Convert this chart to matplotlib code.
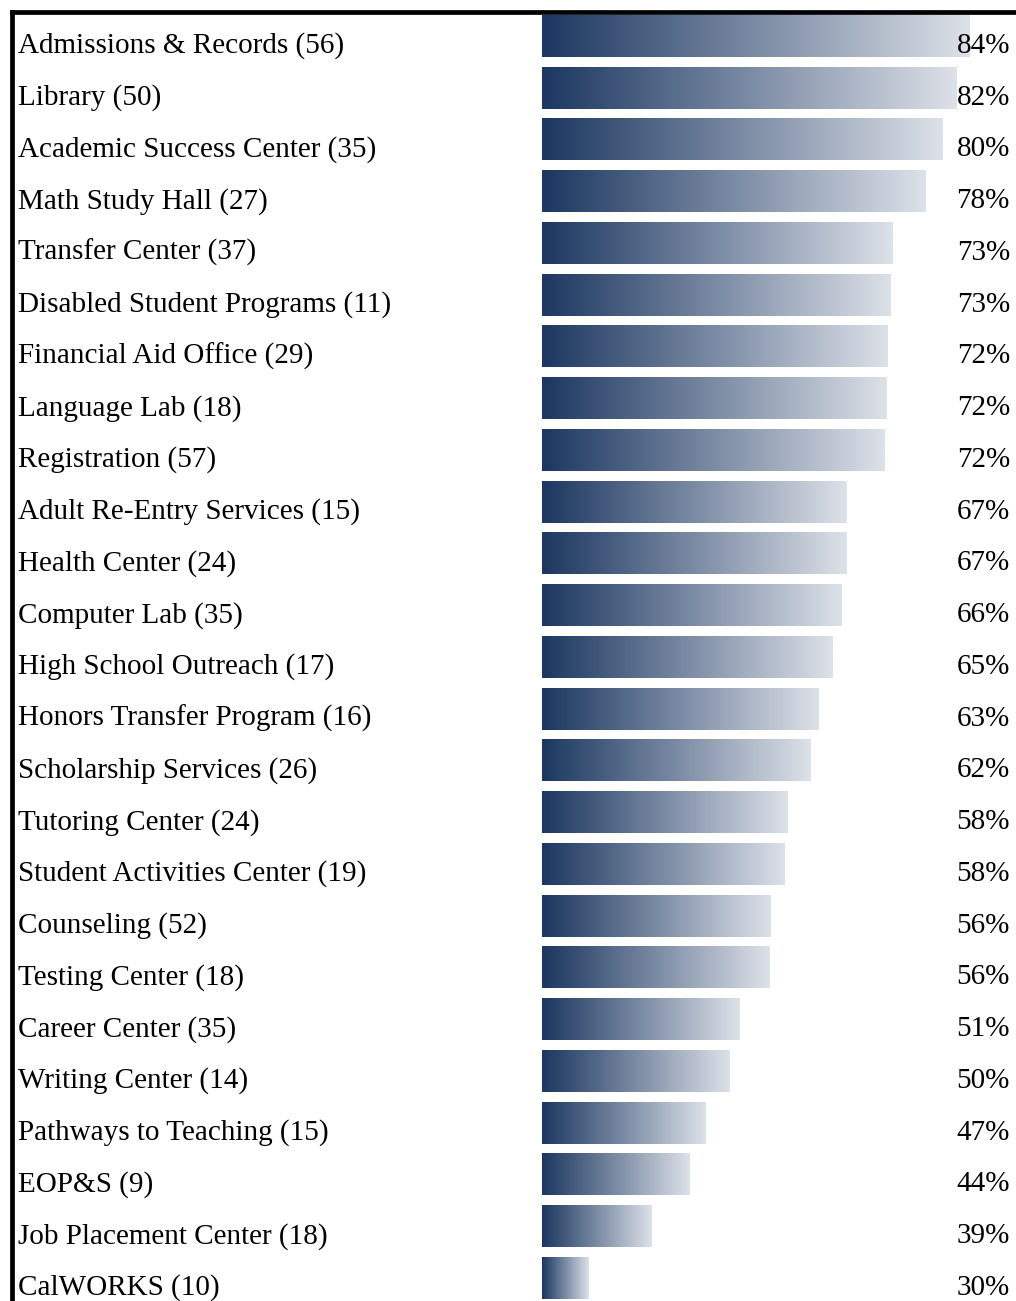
import numpy as np
import matplotlib.pyplot as plt
from matplotlib.colors import LinearSegmentedColormap
from matplotlib.transforms import blended_transform_factory

# Service areas (n respondents) and percent satisfied
services = [
    "Admissions & Records (56)", "Library (50)", "Academic Success Center (35)",
    "Math Study Hall (27)", "Transfer Center (37)", "Disabled Student Programs (11)",
    "Financial Aid Office (29)", "Language Lab (18)", "Registration (57)",
    "Adult Re-Entry Services (15)", "Health Center (24)", "Computer Lab (35)",
    "High School Outreach (17)", "Honors Transfer Program (16)",
    "Scholarship Services (26)", "Tutoring Center (24)",
    "Student Activities Center (19)", "Counseling (52)", "Testing Center (18)",
    "Career Center (35)", "Writing Center (14)", "Pathways to Teaching (15)",
    "EOP&S (9)", "Job Placement Center (18)", "CalWORKS (10)",
]
pct = [84.0, 82.2, 80.2, 77.9, 73.1, 72.8, 72.4, 72.3, 72.0, 66.7, 66.7, 65.9,
       64.7, 62.6, 61.6, 58.3, 57.9, 55.8, 55.7, 51.4, 50.0, 46.7, 44.4, 39.0, 30.0]

plt.rcParams['font.family'] = ['Liberation Serif', 'DejaVu Serif']

fig = plt.figure(figsize=(10.16, 13.01), dpi=100)
ax = fig.add_axes([0, 0, 1, 1])

# axis starts near 23.5% at the bar origin
base = 23.48
px = 7.056  # pixels per percent
pitch = 51.75
ax.axis('off')

cmap = LinearSegmentedColormap.from_list('navy', ['#1c3760', '#7b8ba4', '#dde1e8'])
grad = np.linspace(0, 1, 256).reshape(1, -1)
h = 42 / pitch

trans = blended_transform_factory(ax.transAxes, ax.transData)
for i, (name, v) in enumerate(zip(services, pct)):
    ax.imshow(grad, cmap=cmap, aspect='auto', interpolation='bilinear',
              extent=[base, v, i + h / 2, i - h / 2], zorder=2)
    ax.text(18 / 1016, i + 0.19, name, transform=trans, ha='left', va='center',
            fontsize=21, color='black')
    ax.text(1010 / 1016, i + 0.19, f"{v:.0f}%", transform=trans, ha='right',
            va='center', fontsize=21, color='black', zorder=3)

ax.set_xlim(base - 542 / px, base + (1016 - 542) / px)
ax.set_ylim((1301 - 36) / pitch, -36 / pitch)

# frame lines on the top and left
fig.add_artist(plt.Line2D([12 / 1016, 12 / 1016], [0, 1 - 12 / 1301],
                          transform=fig.transFigure, color='black', lw=3.4,
                          solid_capstyle='projecting'))
fig.add_artist(plt.Line2D([12 / 1016, 1], [1 - 12 / 1301, 1 - 12 / 1301],
                          transform=fig.transFigure, color='black', lw=3.4,
                          solid_capstyle='projecting'))

plt.savefig('out.png', dpi=100)
